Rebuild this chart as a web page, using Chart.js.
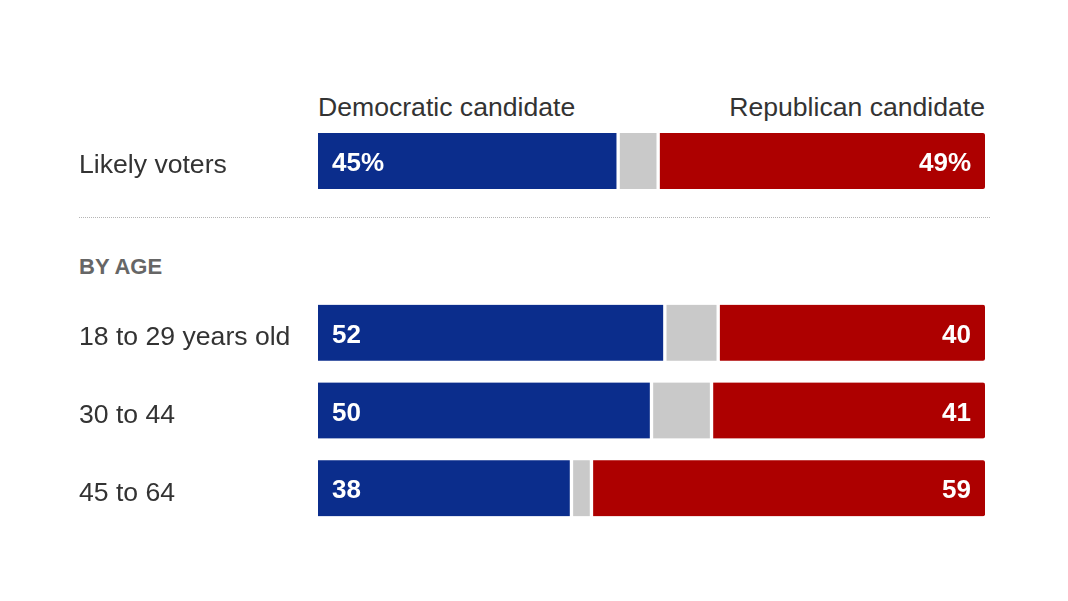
<!DOCTYPE html>
<html>
<head>
<meta charset="utf-8">
<script src="https://cdn.jsdelivr.net/npm/chart.js@4/dist/chart.umd.min.js"></script>
<style>
  html, body { margin: 0; padding: 0; background: #fff; }
  #wrap { position: relative; width: 1068px; height: 601px; overflow: hidden;
          font-family: 'Liberation Sans', Arial, sans-serif; color: #333; }
  .txt { position: absolute; white-space: nowrap; line-height: 1; }
  .head { font-size: 26.6px; top: 94px; }
  #byAge { left: 79px; top: 256px; font-size: 22px; font-weight: bold; color: #666; }
  #rule { position: absolute; left: 79px; width: 911px; top: 217px; border-top: 1px dotted #b5b5b5; }
  .box { position: absolute; left: 70px; width: 930px; }
</style>
</head>
<body>
<div id="wrap">
  <div class="txt head" style="left:318px">Democratic candidate</div>
  <div class="txt head" style="right:83px">Republican candidate</div>
  <div class="box" style="top:120px;height:82px"><canvas id="topChart"></canvas></div>
  <div id="rule"></div>
  <div class="txt" id="byAge">BY AGE</div>
  <div class="box" style="top:294px;height:233px"><canvas id="ageChart"></canvas></div>
</div>
<script>
'use strict';

// ---- data ----
const topLabels  = ['Likely voters'];
const topDem     = [45];
const topOther   = [6];
const topRep     = [49];

const ageLabels  = ['18 to 29 years old', '30 to 44', '45 to 64'];
const ageDem     = [52, 50, 38];
const ageOther   = [8, 9, 3];
const ageRep     = [40, 41, 59];

const BLUE = '#0b2d8c';
const GRAY = '#c9c9c9';
const RED  = '#ad0000';

// Value labels drawn inside the blue and red segments
const valueLabels = {
    id: 'valueLabels',
    afterDatasetsDraw(chart, args, opts) {
        const ctx = chart.ctx;
        ctx.save();
        ctx.font = "bold 26px 'Liberation Sans', Arial, sans-serif";
        ctx.fillStyle = '#fff';
        ctx.textBaseline = 'middle';
        const suffix = opts.suffix || '';
        [0, 2].forEach(di => {
            const ds = chart.data.datasets[di];
            chart.getDatasetMeta(di).data.forEach((bar, i) => {
                const txt = ds.data[i] + suffix;
                if (di === 0) {
                    ctx.textAlign = 'left';
                    ctx.fillText(txt, Math.min(bar.x, bar.base) + 14, bar.y + 3);
                } else {
                    ctx.textAlign = 'right';
                    ctx.fillText(txt, Math.max(bar.x, bar.base) - 14, bar.y + 3);
                }
            });
        });
        ctx.restore();
    }
};

function makeChart(id, labels, dem, other, rep, suffix) {
    const seg = (label, data, color, bw) => ({
        label, data,
        backgroundColor: color,
        borderColor: '#fff',
        borderWidth: bw,
        borderSkipped: false,
        borderRadius: 2,
        barThickness: 56,
    });
    return new Chart(document.getElementById(id), {
        type: 'bar',
        data: {
            labels,
            datasets: [
                seg('Democratic candidate', dem, BLUE, { right: 2, left: 0, top: 0, bottom: 0 }),
                seg('Other', other, GRAY, { right: 2, left: 2, top: 0, bottom: 0 }),
                seg('Republican candidate', rep, RED, { right: 0, left: 2, top: 0, bottom: 0 }),
            ]
        },
        options: {
            indexAxis: 'y',
            responsive: true,
            maintainAspectRatio: false,
            animation: false,
            layout: { padding: { left: 9, right: 15, top: 0, bottom: 0 } },
            plugins: {
                legend: { display: false },
                tooltip: { enabled: false },
                valueLabels: { suffix }
            },
            scales: {
                x: { stacked: true, min: 0, max: 100, display: false },
                y: {
                    stacked: true,
                    grid: { display: false },
                    border: { display: false },
                    ticks: {
                        crossAlign: 'far',
                        padding: 0,
                        labelOffset: 5,
                        color: '#333',
                        font: { family: "'Liberation Sans', Arial, sans-serif", size: 26.6 }
                    },
                    afterFit(scale) {
                        scale.width = 239;
                        scale.paddingTop = 0;
                        scale.paddingBottom = 0;
                    }
                }
            }
        },
        plugins: [valueLabels]
    });
}

makeChart('topChart', topLabels, topDem, topOther, topRep, '%');
makeChart('ageChart', ageLabels, ageDem, ageOther, ageRep, '');
</script>
</body>
</html>
